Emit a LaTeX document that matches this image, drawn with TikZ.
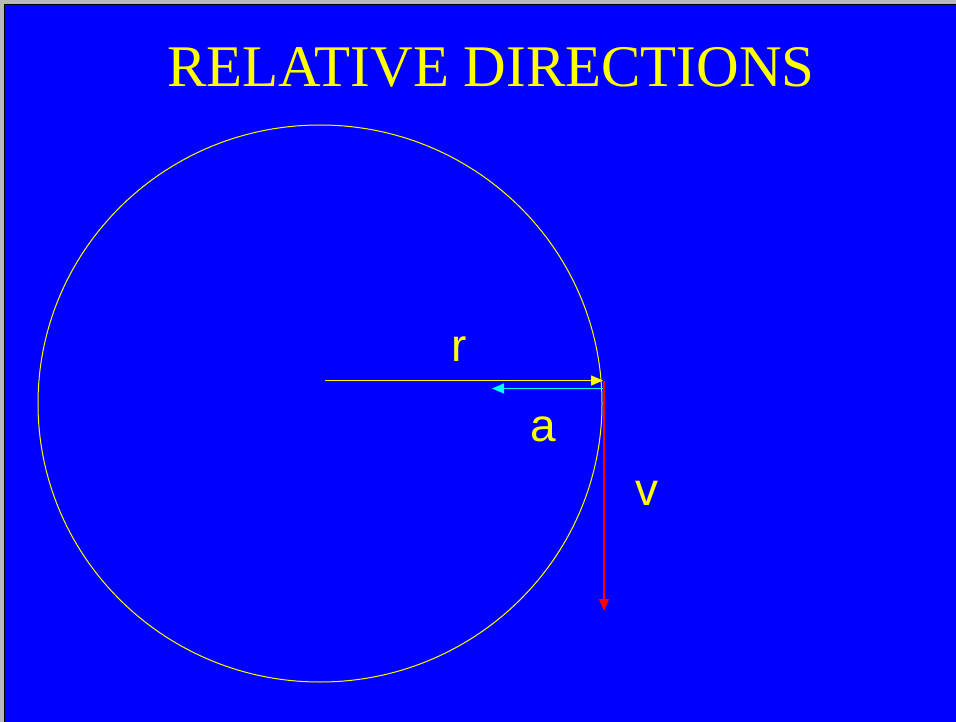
\documentclass[tikz,border=0pt]{standalone}
\usepackage{fontspec}
\setmainfont{Liberation Serif}
\setsansfont{Liberation Sans}
\usetikzlibrary{arrows.meta, positioning}

\definecolor{slideblue}{RGB}{0,0,255}
\definecolor{slideyellow}{RGB}{255,255,0}
\definecolor{slidecyan}{RGB}{0,255,255}
\definecolor{slidered}{RGB}{255,0,0}

\begin{document}
\begin{tikzpicture}[x=1pt, y=-1pt,
      vec/.style={line width=1.4pt, -{Triangle[length=12pt, width=10pt]}},
      lbl/.style={font=\sffamily\fontsize{46}{46}\selectfont, text=slideyellow, inner sep=0pt},
      ttl/.style={font=\rmfamily\fontsize{59}{59}\selectfont, text=slideyellow, inner sep=0pt}]

    % ===== slide frame =====
    \useasboundingbox (0,0) rectangle (956,722);
    \clip (0,0) rectangle (956,722);
    \fill[gray!55] (0,0) rectangle (956,722);
    \filldraw[fill=slideblue, draw=black, line width=1.5pt] (4.5,4.5) rectangle (970,740);

    % ===== title =====
    \node[ttl, anchor=base] (title) at (491,87) {RELATIVE DIRECTIONS};

    % ===== circle =====
    \coordinate (centre) at (320,403.5);
    \draw[slideyellow, line width=1pt] (centre) ellipse [x radius=282, y radius=278.5];

    % ===== vectors =====
    \coordinate (rstart) at (325,380.5);
    \coordinate (rtip)   at (603,380.5);
    \coordinate (astart) at (604,388.5);
    \coordinate (atip)   at (492,388.5);
    \coordinate (vstart) at (604,381);
    \coordinate (vtip)   at (604,611);

    \draw[vec, slideyellow] (rstart) -- (rtip);
    \draw[vec, slidecyan]   (astart) -- (atip);
    \draw[vec, slidered]    (vstart) -- (vtip);

    % ===== labels =====
    \node[lbl, anchor=base] (rlbl) at (459,361) {r};
    \node[lbl, anchor=base] (albl) at (543,441) {a};
    \node[lbl, anchor=base] (vlbl) at (647,505) {v};

\end{tikzpicture}
\end{document}
